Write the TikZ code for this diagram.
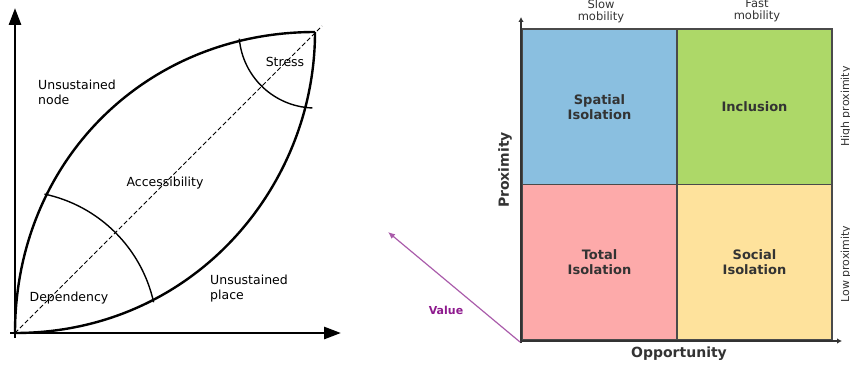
\documentclass[tikz,border=0pt]{standalone}
\usepackage{fontspec}
\setmainfont{DejaVu Sans}
\usetikzlibrary{arrows.meta}
\definecolor{qblue}{HTML}{8ABFE0}
\definecolor{qgreen}{HTML}{ADD868}
\definecolor{qpink}{HTML}{FDAAAA}
\definecolor{qyellow}{HTML}{FEE29C}
\definecolor{qgray}{HTML}{333333}
\definecolor{qedge}{HTML}{4A4A4A}
\definecolor{vline}{HTML}{A95BAA}
\definecolor{vtext}{HTML}{8E1A8E}
\begin{document}
\begin{tikzpicture}[x=1pt,y=1pt,
  bigaxis/.style={line width=2.8pt,-{Triangle[length=17pt,width=12pt]}},
  lens/.style={line width=2.4pt},
  thinarc/.style={line width=1.4pt},
  lbl/.style={inner sep=0pt,font=\fontsize{12.5}{15}\selectfont,align=left},
  quad/.style={draw=qedge,line width=1.3pt,minimum width=155pt,minimum height=155.5pt,
    inner sep=0pt,align=center,text=qgray,font=\bfseries\fontsize{13}{15}\selectfont},
  smallaxis/.style={draw=qgray,line width=2.3pt,-{Latex[length=5pt,width=5.5pt]}},
  axlbl/.style={inner sep=0pt,text=qgray,font=\bfseries\fontsize{14}{16}\selectfont},
  toplbl/.style={inner sep=0pt,text=qgray,align=center,font=\fontsize{11.5}{12}\selectfont},
  sidelbl/.style={inner sep=0pt,text=qgray,rotate=90,font=\fontsize{11}{12}\selectfont}
]
\useasboundingbox (0,0) rectangle (850,365);
% ---------- left panel ----------
\coordinate (O) at (15,32);
\coordinate (T) at (315,333);
\coordinate (ytop) at (15,357);
\coordinate (ybot) at (15,27);
\coordinate (xl) at (10,32);
\coordinate (xr) at (341,32);
\coordinate (dend) at (322,339);
\draw[bigaxis] (ybot) -- (ytop);
\draw[bigaxis] (xl) -- (xr);
\draw[lens] (O) .. controls (15,203) and (145,333) .. (T);
\draw[lens] (O) .. controls (192,32) and (315,177) .. (T);
\draw[dash pattern=on 4.5pt off 2.5pt,line width=1pt] (O) -- (dend);
\draw[thinarc] ([shift={(78:142)}]O) arc[start angle=78,end angle=12.5,radius=142];
\draw[thinarc] ([shift={(185:76)}]T) arc[start angle=185,end angle=268,radius=76];
\node[lbl,anchor=west] (unode) at (38,273) {Unsustained\\node};
\node[lbl,anchor=west] (uplace) at (210,76) {Unsustained\\place};
\node[lbl] (stress) at (285,303) {Stress};
\node[lbl] (access) at (165,181.5) {Accessibility};
\node[lbl] (dep) at (69,66.5) {Dependency};
% ---------- right panel ----------
\node[quad,fill=qblue] (sp) at (599.5,258.25) {Spatial\\Isolation};
\node[quad,fill=qgreen] (inc) at (754.5,258.25) {Inclusion};
\node[quad,fill=qpink] (tot) at (599.5,102.75) {Total\\Isolation};
\node[quad,fill=qyellow] (soc) at (754.5,102.75) {Social\\Isolation};
\coordinate (corner) at (520,23);
\coordinate (ytip) at (521,348);
\coordinate (xtip) at (842,24);
\draw[smallaxis] (521,22) -- (ytip);
\draw[smallaxis] (520,24) -- (xtip);
\coordinate (vtip) at (388,133);
\draw[vline,line width=1.2pt,-{Latex[length=7pt,width=6pt]}] (corner) -- (vtip);
\node[inner sep=0pt,text=vtext,font=\bfseries\fontsize{11}{13}\selectfont] (val) at (446,55) {Value};
\node[axlbl,rotate=90] (prox) at (505,195) {Proximity};
\node[axlbl] (opp) at (679,11) {Opportunity};
\node[toplbl] (slow) at (601,354) {Slow\\mobility};
\node[toplbl] (fast) at (757,354) {Fast\\mobility};
\node[sidelbl] (high) at (846,258.5) {High proximity};
\node[sidelbl] (low) at (846,101) {Low proximity};
\end{tikzpicture}
\end{document}
